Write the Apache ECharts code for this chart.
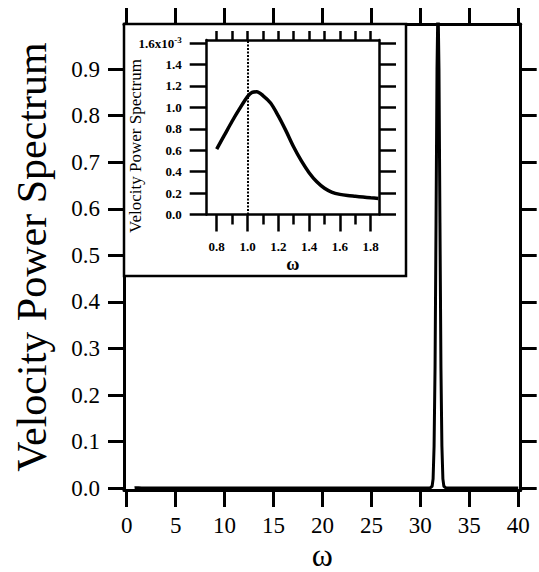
<!DOCTYPE html>
<html><head><meta charset="utf-8">
<script src="https://cdn.jsdelivr.net/npm/echarts@6/dist/echarts.min.js"></script>
<style>html,body{margin:0;padding:0;background:#fff}#c{width:539px;height:572px}</style>
</head><body><div id="c"></div>
<script>
// ---- main spectrum ----
const mainOmega = [0.8, 1.0, 1.2, 1.5, 1.85, 5, 10, 15, 20, 25, 30, 31.0, 31.2, 31.3, 31.4, 31.5, 31.6, 31.7, 31.8, 31.9, 32.0, 32.1, 32.2, 32.3, 32.4, 32.6, 35, 40];
const mainPower = [0.0006, 0.0011, 0.0009, 0.0003, 0.00015, 0.0001, 0.0001, 0.0001, 0.0001, 0.0001, 0.0002, 0.0005, 0.004, 0.02, 0.09, 0.26, 0.57, 0.90, 1.05, 0.90, 0.57, 0.26, 0.09, 0.02, 0.004, 0.0005, 0.0001, 0.0001];
const mainXTicks = [0, 5, 10, 15, 20, 25, 30, 35, 40];
const mainYTicks = [0, 0.1, 0.2, 0.3, 0.4, 0.5, 0.6, 0.7, 0.8, 0.9];
// ---- inset ----
const insetOmega = [0.80, 0.85, 0.90, 0.95, 1.00, 1.03, 1.06, 1.10, 1.15, 1.20, 1.25, 1.30, 1.35, 1.40, 1.45, 1.50, 1.55, 1.60, 1.65, 1.70, 1.75, 1.80, 1.85];
const insetPower = [0.00061, 0.00074, 0.00087, 0.00099, 0.00110, 0.00114, 0.001145, 0.00111, 0.00104, 0.00092, 0.00078, 0.00063, 0.00050, 0.00039, 0.000305, 0.000245, 0.000207, 0.000188, 0.000177, 0.000170, 0.000163, 0.000156, 0.000150];
const insetXMajor = [0.8, 1.0, 1.2, 1.4, 1.6, 1.8];
const insetXMinor = [0.9, 1.1, 1.3, 1.5, 1.7];
const insetXTop = [0.8, 0.9, 1.0, 1.1, 1.2, 1.3, 1.4, 1.5, 1.6, 1.7, 1.8];
const insetYTicks = [0, 0.0002, 0.0004, 0.0006, 0.0008, 0.0010, 0.0012, 0.0014, 0.0016];
const insetRefOmega = [1.0];
const yTitle = 'Velocity Power Spectrum';
const xTitle = 'ω';

const SERIF = '"Liberation Serif", "DejaVu Serif", serif';
const K = '#000';

function axisBase(extra) {
  return Object.assign({
    type: 'value',
    splitLine: { show: false },
    nameMoveOverlap: false,
    axisLine: { show: true, onZero: false, lineStyle: { color: K, width: 3 } },
  }, extra);
}

const chart = echarts.init(document.getElementById('c'), null, { renderer: 'svg' });
chart.setOption({
  animation: false,
  backgroundColor: '#fff',
  grid: [
    { left: 124, right: 18.3, top: 24, bottom: 82, outerBoundsMode: 'none', containLabel: false },
    { left: 206.7, right: 160, top: 40, bottom: 357.5, outerBoundsMode: 'none', containLabel: false }
  ],
  xAxis: [
    axisBase({
      gridIndex: 0, position: 'bottom', min: -0.28, max: 40.25,
      axisTick: { show: true, customValues: mainXTicks, length: 17, lineStyle: { color: K, width: 3 } },
      axisLabel: { customValues: mainXTicks, margin: 26, color: K, fontFamily: SERIF, fontSize: 23, lineHeight: 18 },
      name: xTitle, nameLocation: 'middle', nameGap: 49,
      nameTextStyle: { color: K, fontFamily: SERIF, fontSize: 32, lineHeight: 32 }
    }),
    axisBase({
      gridIndex: 0, position: 'top', min: -0.28, max: 40.25,
      axisTick: { show: true, customValues: mainXTicks, length: 16, lineStyle: { color: K, width: 3 } },
      axisLabel: { show: false }
    }),
    axisBase({
      gridIndex: 1, position: 'bottom', min: 0.735, max: 1.854, z: 20,
      axisLine: { show: true, onZero: false, lineStyle: { color: K, width: 2.5 } },
      axisTick: { show: true, customValues: insetXMajor, length: 17, lineStyle: { color: K, width: 2.5 } },
      axisLabel: { customValues: insetXMajor, margin: 25, color: K, fontFamily: SERIF, fontSize: 13, fontWeight: 'bold',
        formatter: v => v.toFixed(1) },
      name: xTitle, nameLocation: 'middle', nameGap: 40,
      nameTextStyle: { color: K, fontFamily: SERIF, fontSize: 18, fontWeight: 'bold' }
    }),
    axisBase({
      gridIndex: 1, position: 'bottom', min: 0.735, max: 1.854, z: 20,
      axisLine: { show: false },
      axisTick: { show: true, customValues: insetXMinor, length: 10, lineStyle: { color: K, width: 2.5 } },
      axisLabel: { show: false }
    }),
    axisBase({
      gridIndex: 1, position: 'top', min: 0.735, max: 1.854, z: 20,
      axisLine: { show: true, onZero: false, lineStyle: { color: K, width: 2.5 } },
      axisTick: { show: true, customValues: insetXTop, length: 9, lineStyle: { color: K, width: 2.5 } },
      axisLabel: { show: false }
    })
  ],
  yAxis: [
    axisBase({
      gridIndex: 0, position: 'left', min: -0.004, max: 0.997,
      axisTick: { show: true, customValues: mainYTicks, length: 16, lineStyle: { color: K, width: 3 } },
      axisLabel: { customValues: mainYTicks, margin: 24, color: K, fontFamily: SERIF, fontSize: 23,
        formatter: v => v.toFixed(1) },
      name: yTitle, nameLocation: 'middle', nameRotate: 90, nameGap: 71,
      nameTextStyle: { color: K, fontFamily: SERIF, fontSize: 42 }
    }),
    axisBase({
      gridIndex: 0, position: 'right', min: -0.004, max: 0.997,
      axisTick: { show: true, customValues: mainYTicks, length: 16, lineStyle: { color: K, width: 3 } },
      axisLabel: { show: false }
    }),
    axisBase({
      gridIndex: 1, position: 'left', min: 0, max: 0.001628, z: 20,
      axisLine: { show: true, onZero: false, lineStyle: { color: K, width: 2.5 } },
      axisTick: { show: true, customValues: insetYTicks, length: 17, lineStyle: { color: K, width: 2.5 } },
      axisLabel: { customValues: insetYTicks, margin: 25, color: K, fontFamily: SERIF, fontSize: 13, fontWeight: 'bold',
        formatter: v => Math.abs(v - 0.0016) < 1e-9 ? '{m|1.6x10}{s|-3}' : (v * 1000).toFixed(1),
        rich: {
          m: { fontFamily: SERIF, fontSize: 13, fontWeight: 'bold', color: K },
          s: { fontFamily: SERIF, fontSize: 9, fontWeight: 'bold', color: K, verticalAlign: 'top', padding: [0, 0, 7, 0] }
        } }
    }),
    axisBase({
      gridIndex: 1, position: 'right', min: 0, max: 0.001628, z: 20,
      axisLine: { show: true, onZero: false, lineStyle: { color: K, width: 2.5 } },
      axisTick: { show: true, customValues: insetYTicks, length: 17, lineStyle: { color: K, width: 2.5 } },
      axisLabel: { show: false }
    })
  ],
  graphic: [
    { type: 'rect', z: 5, shape: { x: 124, y: 24, width: 282, height: 252 },
      style: { fill: '#fff', stroke: K, lineWidth: 2.5 } },
    { type: 'text', z: 30, x: 135, y: 146, rotation: Math.PI / 2,
      style: { text: yTitle, fill: K, font: '17px "Liberation Serif", serif', align: 'center', verticalAlign: 'middle' } }
  ],
  series: [
    {
      type: 'line', xAxisIndex: 0, yAxisIndex: 0, z: 2,
      data: mainOmega.map((w, i) => [w, mainPower[i]]),
      showSymbol: false, clip: true,
      lineStyle: { color: K, width: 3 }
    },
    {
      type: 'line', xAxisIndex: 2, yAxisIndex: 2, z: 20,
      data: insetOmega.map((w, i) => [w, insetPower[i]]),
      showSymbol: false, smooth: 0.3,
      lineStyle: { color: K, width: 3.5 },
      markLine: {
        silent: true, symbol: ['none', 'none'], label: { show: false },
        lineStyle: { color: K, width: 2, type: [2, 1.5] },
        data: insetRefOmega.map(v => ({ xAxis: v }))
      }
    }
  ]
});
</script></body></html>
